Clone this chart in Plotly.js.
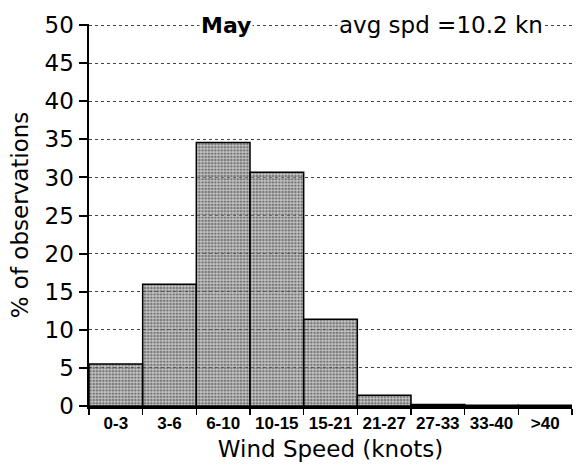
<!DOCTYPE html>
<html>
<head>
<meta charset="utf-8">
<script src="https://cdn.plot.ly/plotly-3.0.1.min.js"></script>
<style>html,body{margin:0;padding:0;background:#fff;}#chart{width:582px;height:468px;}</style>
</head>
<body>
<div id="chart"></div>
<script>
var categories = ["0-3", "3-6", "6-10", "10-15", "15-21", "21-27", "27-33", "33-40", ">40"];
var percentObs = [5.5, 16.0, 34.6, 30.7, 11.4, 1.4, 0.2, 0.1, 0.1];
var yTickVals = [0, 5, 10, 15, 20, 25, 30, 35, 40, 45, 50];
var chartTitle = "May";
var avgText = "avg spd =10.2 kn";
var xTitle = "Wind Speed (knots)";
var yTitle = "% of observations";

var FONT = "DejaVu Sans, Liberation Sans, Arial, sans-serif";
var NARROW = "Liberation Sans, Arial, sans-serif";

var traces = [{
  type: "bar",
  x: categories,
  y: percentObs,
  marker: {
    color: "rgba(150,150,150,0.55)",
    line: {color: "#000", width: 1.5},
    pattern: {shape: ".", size: 3.2, solidity: 0.5, fgcolor: "#222", fillmode: "overlay"}
  },
  hoverinfo: "x+y"
}];

var layout = {
  width: 582, height: 468,
  margin: {l: 89, r: 10, t: 24, b: 62},
  paper_bgcolor: "#fff", plot_bgcolor: "#fff",
  bargap: 0,
  showlegend: false,
  font: {family: FONT, color: "#000"},
  xaxis: {
    type: "category",
    tickson: "boundaries",
    tickangle: 0,
    ticks: "outside", ticklen: 6, tickwidth: 1.5, tickcolor: "#000",
    showline: true, linewidth: 3, linecolor: "#000",
    showgrid: false, zeroline: false,
    tickfont: {family: NARROW, size: 17, color: "#000", weight: "bold"},
    title: {text: xTitle, font: {family: FONT, size: 23, color: "#000"}, standoff: 9}
  },
  yaxis: {
    range: [0, 50.15],
    tickvals: yTickVals,
    ticks: "outside", ticklen: 8, tickwidth: 2, tickcolor: "#000",
    showline: true, linewidth: 2.5, linecolor: "#000",
    showgrid: true, gridcolor: "#444", gridwidth: 1, griddash: "dot",
    zeroline: false,
    tickfont: {family: FONT, size: 23, color: "#000"},
    title: {text: yTitle, font: {family: FONT, size: 23, color: "#000"}, standoff: 10}
  },
  yaxis2: {
    overlaying: "y", side: "right",
    range: [0, 50.15],
    tickvals: yTickVals,
    ticks: "outside", ticklen: 6, tickwidth: 2, tickcolor: "#000",
    showticklabels: false,
    showline: true, linewidth: 2.5, linecolor: "#000",
    showgrid: false, zeroline: false
  },
  annotations: [
    {text: "<b>" + chartTitle + "</b>", xref: "paper", yref: "paper", x: 0.283, y: 0.997,
     xanchor: "center", yanchor: "middle", showarrow: false, bgcolor: "#fff",
     font: {family: FONT, size: 22, color: "#000"}},
    {text: avgText, xref: "paper", yref: "paper", x: 0.728, y: 0.997,
     xanchor: "center", yanchor: "middle", showarrow: false, bgcolor: "#fff",
     font: {family: FONT, size: 23, color: "#000"}}
  ]
};

Plotly.newPlot("chart", traces, layout, {displayModeBar: false, staticPlot: true});
</script>
</body>
</html>
